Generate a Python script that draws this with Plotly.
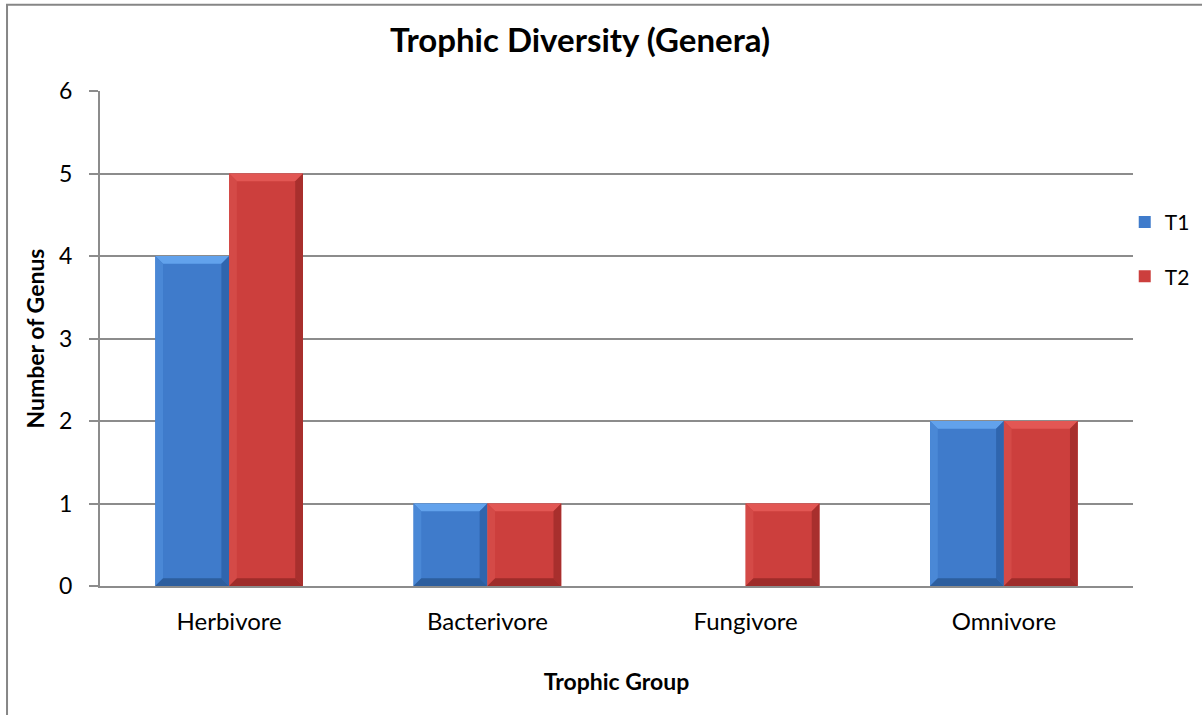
import plotly.graph_objects as go

# Data
groups = ["Herbivore", "Bacterivore", "Fungivore", "Omnivore"]
t1_values = [4, 1, 0, 2]
t2_values = [5, 1, 1, 2]
series_names = ["T1", "T2"]

# Bar face / bevel colours (base, top light, left side, right side, bottom)
palettes = {
    "T1": dict(base="#3F7BCB", top="#62A2EC", left="#4A88D6", right="#2F65AE", bottom="#2D5E9E"),
    "T2": dict(base="#CC3F3D", top="#E25754", left="#D44A47", right="#A82F2D", bottom="#9E2C2A"),
}

FONT = "Lato, 'Open Sans', sans-serif"
BARGAP = 0.428
bar_w = (1 - BARGAP) / 2

fig = go.Figure()
for name, vals in zip(series_names, [t1_values, t2_values]):
    fig.add_trace(go.Bar(
        x=groups, y=vals, name=name,
        marker=dict(color=palettes[name]["base"], line=dict(width=0)),
        legendgroup=name,
    ))

# Bevelled edges on every bar, placed from the bar's own value and slot
shapes = []
dx = 0.03
dy = 0.095
for s, (name, vals) in enumerate(zip(series_names, [t1_values, t2_values])):
    pal = palettes[name]
    for i, v in enumerate(vals):
        if v <= 0:
            continue
        x0 = i - bar_w + s * bar_w
        x1 = x0 + bar_w
        polys = [
            ([(x0, v), (x1, v), (x1 - dx, v - dy), (x0 + dx, v - dy)], pal["top"]),
            ([(x0, v), (x0 + dx, v - dy), (x0 + dx, dy), (x0, 0)], pal["left"]),
            ([(x1, v), (x1 - dx, v - dy), (x1 - dx, dy), (x1, 0)], pal["right"]),
            ([(x0, 0), (x0 + dx, dy), (x1 - dx, dy), (x1, 0)], pal["bottom"]),
        ]
        for pts, col in polys:
            path = "M " + " L ".join(f"{px},{py}" for px, py in pts) + " Z"
            shapes.append(dict(type="path", xref="x", yref="y", path=path,
                               fillcolor=col, line=dict(width=0), layer="above"))

# Outer chart frame (its right and bottom edges run past the page)
shapes.append(dict(type="rect", xref="paper", yref="paper",
                   x0=-0.09, x1=1.08, y0=-0.35, y1=1.174,
                   line=dict(color="#868686", width=2), fillcolor="rgba(0,0,0,0)",
                   layer="below"))

fig.update_layout(
    width=1202, height=715,
    margin=dict(l=100, r=69, t=91, b=129, autoexpand=False),
    paper_bgcolor="white", plot_bgcolor="white",
    barmode="group", bargap=BARGAP, bargroupgap=0,
    title=dict(text="<b>Trophic Diversity (Genera)</b>", x=580 / 1202, xanchor="center",
               y=1 - 40 / 715, yanchor="middle",
               font=dict(family=FONT, size=33, color="black")),
    font=dict(family=FONT, color="black"),
    showlegend=True,
    legend=dict(x=0.992, xanchor="left", y=0.776, yanchor="top",
                font=dict(family=FONT, size=21, color="black"),
                tracegroupgap=24, itemwidth=30, bgcolor="rgba(0,0,0,0)"),
    shapes=shapes,
)

fig.update_xaxes(
    type="category",
    showline=True, linecolor="#8C8C8C", linewidth=2,
    ticks="", showgrid=False,
    tickfont=dict(family=FONT, size=24, color="black"),
    ticklabelstandoff=13,
    title=dict(text="<b>Trophic Group</b>", font=dict(family=FONT, size=23, color="black"),
               standoff=40),
)
fig.update_yaxes(
    range=[0, 6], dtick=1, tick0=0,
    showline=True, linecolor="#8C8C8C", linewidth=2,
    ticks="outside", ticklen=9, tickcolor="#8C8C8C", tickwidth=2,
    showgrid=True, gridcolor="#8C8C8C", gridwidth=2,
    zeroline=False,
    tickfont=dict(family=FONT, size=23, color="black"),
    ticklabelstandoff=12,
    title=dict(text="<b>Number of Genus</b>", font=dict(family=FONT, size=23, color="black"),
               standoff=8),
)

fig.write_html("out.html")
